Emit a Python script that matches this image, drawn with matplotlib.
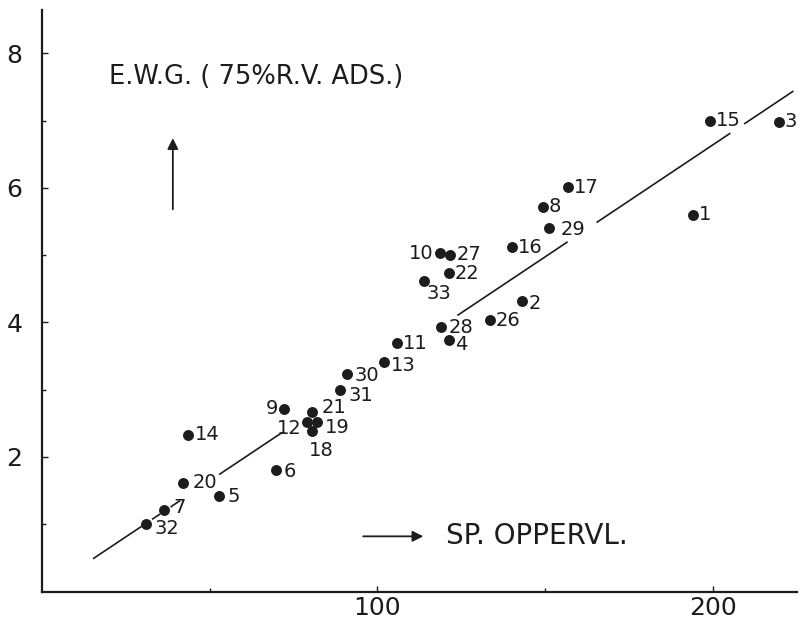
import numpy as np
import matplotlib.pyplot as plt

# DATA
sample_ids = [1, 2, 3, 4, 5, 6, 7, 8, 9, 10, 11, 12, 13, 14, 15, 16, 17,
              18, 19, 20, 21, 22, 26, 27, 28, 29, 30, 31, 32, 33]
sp_opp = [194.1, 143.1, 219.6, 121.2, 52.8, 69.9, 36.4, 149.2, 72.1, 118.5,
          105.9, 79.1, 101.9, 43.4, 199.1, 140.1, 156.9, 80.6, 82.1, 42.1,
          80.6, 121.2, 133.4, 121.7, 118.8, 151.2, 91.0, 88.7, 31.0, 113.8]
ewg = [5.60, 4.32, 6.98, 3.74, 1.42, 1.81, 1.21, 5.72, 2.72, 5.03,
       3.69, 2.52, 3.41, 2.33, 7.00, 5.12, 6.01, 2.38, 2.52, 1.62,
       2.67, 4.74, 4.03, 5.00, 3.93, 5.41, 3.24, 2.99, 1.00, 4.62]

# fitted line, drawn in pieces (broken around the labels like the original)
fit_slope = 0.0333
fit_icpt = -0.02
fit_pieces = [(15.4, 30.0), (33.0, 35.0), (38.5, 41.0), (53.0, 71.5),
              (124.0, 156.5), (165.5, 205.0), (209.5, 223.8)]

# label placement (offset in pixels, horizontal alignment)
label_pos = {
    1: (6, 0, 'left'), 2: (7, -3, 'left'), 3: (6, 0, 'left'),
    4: (6, -5, 'left'), 5: (8, -1, 'left'), 6: (7, -2, 'left'),
    7: (9, 3, 'left'), 8: (6, 0, 'left'), 9: (-6, 0, 'right'),
    10: (-6, 0, 'right'), 11: (6, 0, 'left'), 12: (-6, -7, 'right'),
    13: (7, -3, 'left'), 14: (7, 0, 'left'), 15: (6, 0, 'left'),
    16: (6, 0, 'left'), 17: (6, 0, 'left'), 18: (9, -19, 'center'),
    19: (7, -6, 'left'), 20: (9, 0, 'left'), 21: (9, 4, 'left'),
    22: (6, -1, 'left'), 26: (6, 0, 'left'), 27: (6, 1, 'left'),
    28: (8, 0, 'left'), 29: (11, -2, 'left'), 30: (7, -2, 'left'),
    31: (9, -5, 'left'), 32: (9, -4, 'left'), 33: (3, -13, 'left'),
}

INK = '#1c1c1c'
plt.rcParams['font.family'] = ['DejaVu Sans']

fig = plt.figure(figsize=(8, 6.25), dpi=100)
ax = fig.add_axes([0.0525, 0.0536, 0.9435, 0.930])

# regression line
for x0, x1 in fit_pieces:
    xs = np.array([x0, x1])
    ax.plot(xs, fit_slope * xs + fit_icpt, color=INK, lw=1.2)

# points
ax.scatter(sp_opp, ewg, s=62, color=INK, zorder=3, linewidths=0)

for sid, x, y in zip(sample_ids, sp_opp, ewg):
    dx, dy, ha = label_pos[sid]
    ax.annotate(str(sid), (x, y), xytext=(dx, dy), textcoords='offset pixels',
                ha=ha, va='center', fontsize=14, color=INK)

# axis titles with arrows
ax.text(20, 7.65, "E.W.G. ( 75%R.V. ADS.)", fontsize=18.5, color=INK,
        va='center', ha='left')
ax.annotate('', xy=(39, 6.78), xytext=(39, 5.64),
            arrowprops=dict(arrowstyle='-|>', color=INK, lw=1.3,
                            mutation_scale=16))
ax.annotate('', xy=(114.5, 0.82), xytext=(94.9, 0.82),
            arrowprops=dict(arrowstyle='-|>', color=INK, lw=1.3,
                            mutation_scale=16))
ax.text(120.5, 0.83, "SP. OPPERVL.", fontsize=20, color=INK,
        va='center', ha='left')

ax.set_xlim(0, 225)
ax.set_ylim(0, 8.64)
ax.spines['top'].set_visible(False)
ax.spines['right'].set_visible(False)
for sp in ['left', 'bottom']:
    ax.spines[sp].set_linewidth(1.6)
    ax.spines[sp].set_color(INK)

ax.set_xticks([100, 200])
ax.set_yticks([2, 4, 6, 8])
ax.set_xticks([50, 150], minor=True)
ax.set_yticks([1, 3, 5, 7], minor=True)
ax.tick_params(which='both', direction='in', length=4, width=1, color=INK,
               labelsize=18, labelcolor=INK)
ax.tick_params(which='minor', length=3)
ax.tick_params(axis='y', pad=14)
ax.tick_params(axis='x', pad=3)

fig.savefig('out.png', dpi=100)
